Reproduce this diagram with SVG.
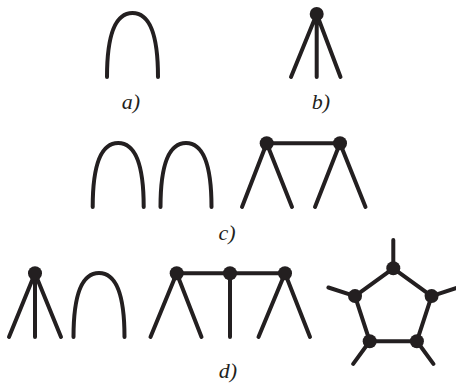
<svg xmlns="http://www.w3.org/2000/svg" xmlns:xlink="http://www.w3.org/1999/xlink" width="456" height="383" viewBox="0 0 456 383">
<style>
.ln{fill:none;stroke:#231f20;stroke-width:4;stroke-linecap:round;stroke-linejoin:round}
.nd{fill:#231f20}
.lb{font-family:"Liberation Serif","Times New Roman",serif;font-style:italic;font-size:22px;fill:#231f20;text-anchor:middle}
</style>
<defs>
<path id="arch" class="ln" d="M0,0 C0,-50 12,-64 25.5,-64 C39,-64 51,-50 51,0"/>
</defs>
<rect width="456" height="383" fill="#fff"/>
<g id="connectors">
<use xlink:href="#arch" x="107" y="77"/>
<path class="ln" d="M316.7,14 L291,77 M316.7,14 L316.7,77 M316.7,14 L340.5,77"/>
<use xlink:href="#arch" x="92.7" y="207"/>
<use xlink:href="#arch" x="160.5" y="207"/>
<path class="ln" d="M266.7,143.3 L340,143.3 M266.7,143.3 L242,207 M266.7,143.3 L292,207 M340,143.3 L315,207 M340,143.3 L365.5,207"/>
<path class="ln" d="M35,273.3 L9,337 M35,273.3 L35,337 M35,273.3 L61,337"/>
<use xlink:href="#arch" x="73.5" y="337"/>
<path class="ln" d="M176.7,273.3 L285,273.3 M176.7,273.3 L150.5,337 M176.7,273.3 L201.5,337 M230,273.3 L230,337 M285,273.3 L258.5,337 M285,273.3 L310,337"/>
<path class="ln" d="M393.3,268.3 L431.6,296.1 L416.9,341.2 L369.7,341.2 L355,296.1 Z M393.3,268.3 L393.3,240 M431.6,296.1 L458,287.5 M416.9,341.2 L433.4,363.9 M369.7,341.2 L353.2,363.9 M355,296.1 L328.4,287.5"/>
</g>
<g id="node-b"><circle class="nd" cx="316.7" cy="14" r="7"/></g>
<g id="node-c1"><circle class="nd" cx="266.7" cy="143.3" r="7"/></g>
<g id="node-c2"><circle class="nd" cx="340" cy="143.3" r="7"/></g>
<g id="node-d1"><circle class="nd" cx="35" cy="273.3" r="7"/></g>
<g id="node-d2"><circle class="nd" cx="176.7" cy="273.3" r="7"/></g>
<g id="node-d3"><circle class="nd" cx="230" cy="273.3" r="7"/></g>
<g id="node-d4"><circle class="nd" cx="285" cy="273.3" r="7"/></g>
<g id="node-p1"><circle class="nd" cx="393.3" cy="268.3" r="7"/></g>
<g id="node-p2"><circle class="nd" cx="431.6" cy="296.1" r="7"/></g>
<g id="node-p3"><circle class="nd" cx="416.9" cy="341.2" r="7"/></g>
<g id="node-p4"><circle class="nd" cx="369.7" cy="341.2" r="7"/></g>
<g id="node-p5"><circle class="nd" cx="355" cy="296.1" r="7"/></g>
<g id="labels">
<text class="lb" x="131" y="109">a)</text>
<text class="lb" x="321" y="109">b)</text>
<text class="lb" x="227" y="240">c)</text>
<text class="lb" x="228" y="378">d)</text>
</g>
</svg>
